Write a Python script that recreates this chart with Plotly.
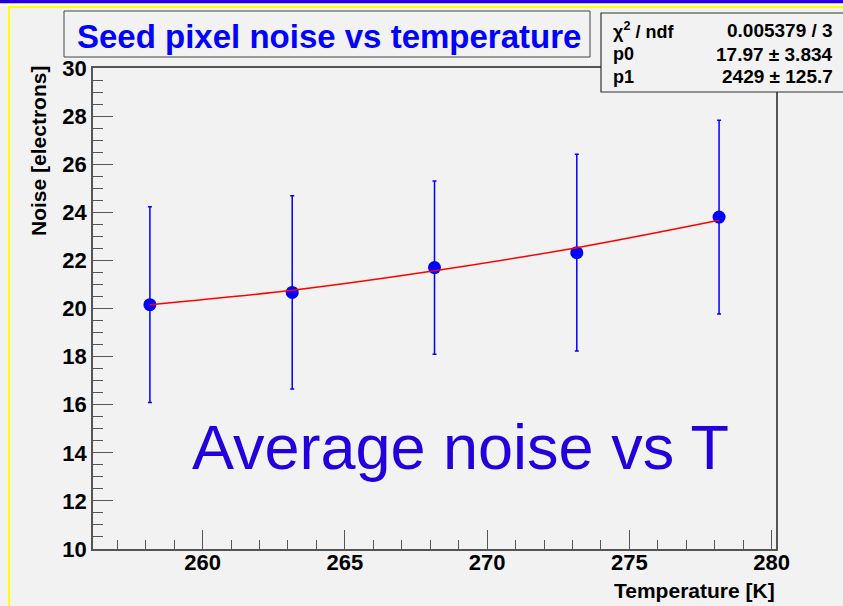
import plotly.graph_objects as go

# ---- data ----
temperature = [258.15, 263.15, 268.15, 273.15, 278.15]
noise = [20.16, 20.67, 21.70, 22.32, 23.80]
noise_err = [4.07, 4.02, 3.60, 4.09, 4.03]
fit_values = [20.16, 20.76, 21.57, 22.53, 23.67]

x_range = [256.15, 280.15]
y_range = [10, 30]

stats_labels = ["χ<sup>2</sup> / ndf", "p0", "p1"]
stats_values = ["0.005379 / 3", "17.97 ± 3.834", "2429 ± 125.7"]

# ---- geometry (pixels) ----
W, H = 843, 606
L, R, T, B = 93, 776, 68, 549
def px(x):
    return (x - L) / (R - L)
def py(y):
    return (B - y) / (B - T)

BG = "#f2f2f2"
FONT = "Liberation Sans, Arial, sans-serif"

fig = go.Figure()
fig.add_trace(go.Scatter(
    x=temperature, y=noise, mode="markers",
    marker=dict(color="#0000ff", size=13),
    error_y=dict(type="data", array=noise_err, color="#0000ff", thickness=1.5, width=2),
    showlegend=False,
))
fig.add_trace(go.Scatter(
    x=temperature, y=fit_values, mode="lines",
    line=dict(color="#ff0000", width=1.5, shape="spline"),
    showlegend=False,
))

axis_common = dict(
    showgrid=False, zeroline=False, showline=True, linecolor="#555555", linewidth=1.5,
    mirror=True, ticks="inside", tickcolor="#555555", tickwidth=1.2,
    tickfont=dict(family=FONT, size=22, color="black", weight="bold"),
)
fig.update_xaxes(range=x_range, tick0=0, dtick=5, ticklen=19, ticklabelstandoff=-7,
                 minor=dict(ticks="inside", ticklen=9, dtick=1, tickcolor="#555555"),
                 **axis_common)
fig.update_yaxes(range=y_range, tick0=0, dtick=2, ticklen=20, ticklabelstandoff=0,
                 minor=dict(ticks="inside", ticklen=10, dtick=0.5, tickcolor="#555555"),
                 **axis_common)

shapes = []
# top blue bar and yellow frame lines
shapes.append(dict(type="rect", xref="paper", yref="paper", x0=px(0), x1=px(W), y0=py(3.5), y1=py(0),
                   fillcolor="#2200dd", line=dict(width=0), layer="above"))
shapes.append(dict(type="rect", xref="paper", yref="paper", x0=px(0), x1=px(W), y0=py(6), y1=py(3.5),
                   fillcolor="white", line=dict(width=0), layer="above"))
shapes.append(dict(type="rect", xref="paper", yref="paper", x0=px(8), x1=px(W), y0=py(8), y1=py(6),
                   fillcolor="#ffff00", line=dict(width=0), layer="above"))
shapes.append(dict(type="rect", xref="paper", yref="paper", x0=px(8), x1=px(10), y0=py(W), y1=py(6),
                   fillcolor="#ffff00", line=dict(width=0), layer="above"))
# title box
shapes.append(dict(type="rect", xref="paper", yref="paper", x0=px(64), x1=px(590), y0=py(57), y1=py(11),
                   fillcolor=BG, line=dict(color="#444444", width=1)))
# stats box
shapes.append(dict(type="rect", xref="paper", yref="paper", x0=px(601), x1=px(850), y0=py(92), y1=py(13),
                   fillcolor=BG, line=dict(color="#333333", width=1.2), layer="above"))
fig.update_layout(shapes=shapes)

ann = []
ann.append(dict(text="<b>Seed pixel noise vs temperature</b>", xref="paper", yref="paper",
                x=px(329), y=py(36), xanchor="center", yanchor="middle", showarrow=False,
                font=dict(family=FONT, size=33, color="#0000ff")))
row_y = [30, 54, 77]
for lab, val, ry in zip(stats_labels, stats_values, row_y):
    ann.append(dict(text="<b>" + lab + "</b>", xref="paper", yref="paper", x=px(611), y=py(ry),
                    xanchor="left", yanchor="middle", showarrow=False,
                    font=dict(family=FONT, size=18, color="black")))
    ann.append(dict(text="<b>" + val + "</b>", xref="paper", yref="paper", x=px(835), y=py(ry),
                    xanchor="right", yanchor="middle", showarrow=False,
                    font=dict(family=FONT, size=19, color="black")))
ann.append(dict(text="<b>Noise [electrons]</b>", xref="paper", yref="paper", x=px(38), y=py(64),
                xanchor="center", yanchor="top", textangle=-90, showarrow=False,
                font=dict(family=FONT, size=21, color="black")))
ann.append(dict(text="<b>Temperature [K]</b>", xref="paper", yref="paper", x=px(777), y=py(590),
                xanchor="right", yanchor="middle", showarrow=False,
                font=dict(family=FONT, size=21, color="black")))
ann.append(dict(text="Average noise vs T", xref="paper", yref="paper", x=px(190), y=py(447),
                xanchor="left", yanchor="middle", showarrow=False,
                font=dict(family="Liberation Sans, Arial, sans-serif", size=63, color="#2200dd")))
fig.update_layout(annotations=ann)

fig.update_layout(
    width=W, height=H, margin=dict(l=L, r=W - R, t=T, b=H - B),
    paper_bgcolor=BG, plot_bgcolor=BG,
)
fig.write_html("out.html")
